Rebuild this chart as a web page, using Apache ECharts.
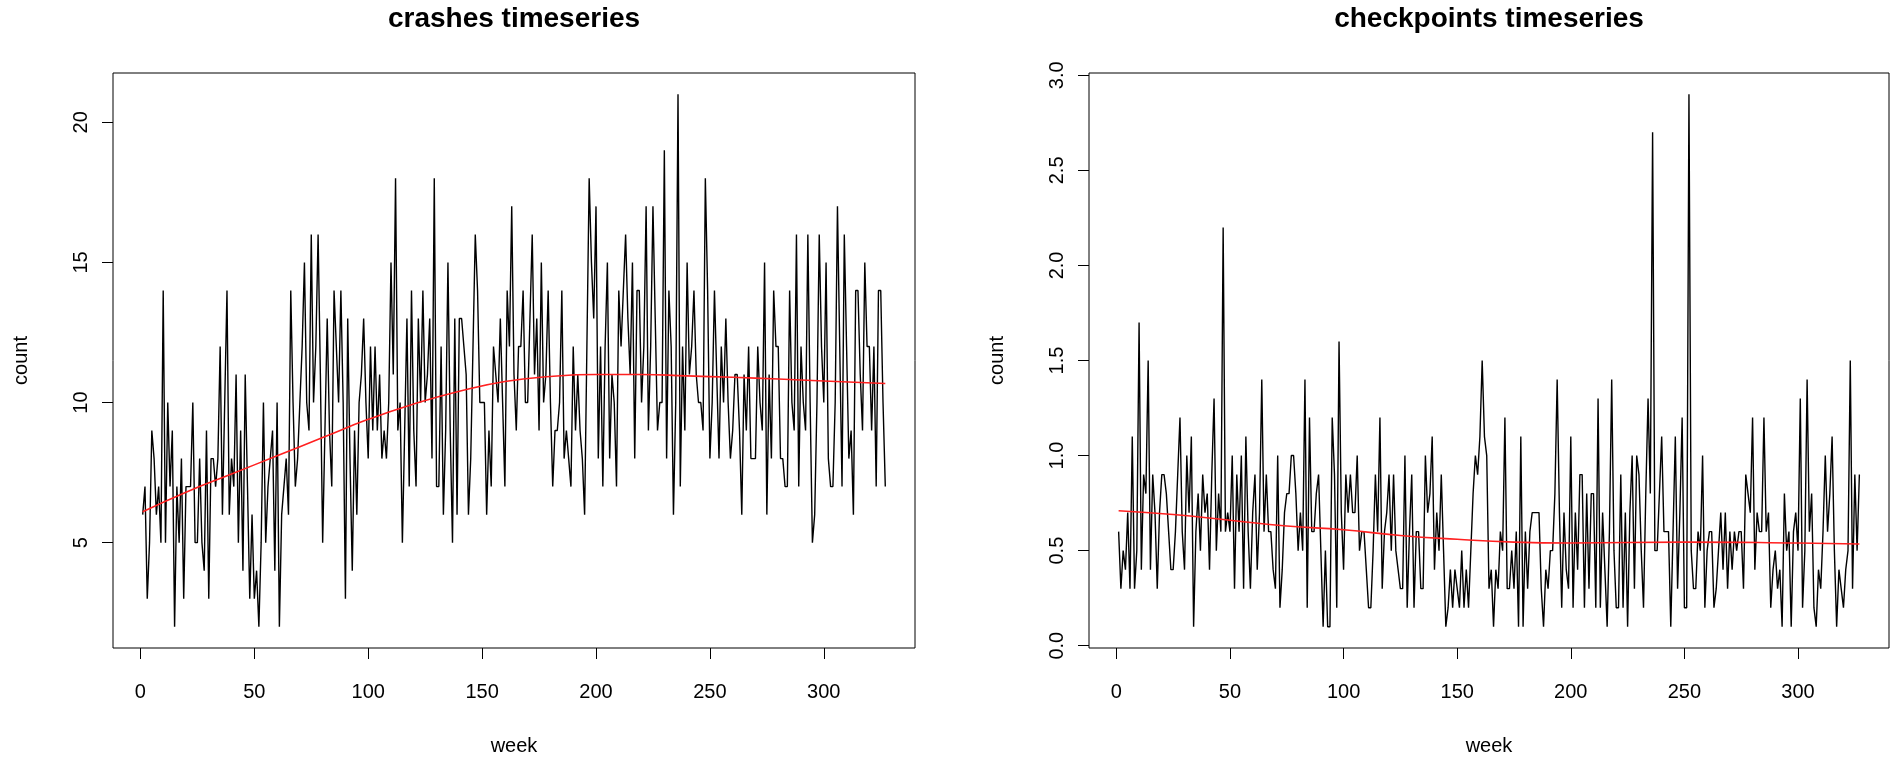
<!DOCTYPE html>
<html lang="en">
<head>
    <meta charset="UTF-8">
    <script src="https://cdn.jsdelivr.net/npm/echarts@6/dist/echarts.min.js"></script>
    <style>
        html, body { margin: 0; padding: 0; background: #fff; }
    </style>
</head>
<body>
    <div id="main" style="width: 1900px; height: 765px;"></div>
    <script>
        // weekly counts (week 1 .. 327)
        var crashes = [
            6,7,3,5,9,8,6,7,5,14,
            5,10,7,9,2,7,5,8,3,7,
            7,7,10,5,5,8,5,4,9,3,
            8,8,7,8,12,6,10,14,6,8,
            7,11,5,9,4,11,7,3,6,3,
            4,2,5,10,5,7,8,9,4,10,
            2,6,7,8,6,14,10,7,8,10,
            12,15,10,9,16,10,12,16,11,5,
            9,13,9,7,14,12,10,14,10,3,
            13,8,4,9,6,10,11,13,10,8,
            12,9,12,9,11,8,9,8,10,15,
            11,18,9,10,5,9,13,7,14,9,
            7,13,10,14,10,11,13,8,18,7,
            7,12,6,9,15,9,5,13,6,13,
            13,12,11,6,8,12,16,14,10,10,
            10,6,9,7,12,11,10,13,10,7,
            14,12,17,11,9,12,12,14,10,10,
            13,16,11,13,9,15,10,11,14,10,
            7,9,9,10,14,8,9,8,7,12,
            9,11,9,8,6,12,18,15,13,17,
            8,12,7,12,15,8,11,10,7,14,
            12,14,16,13,11,15,8,14,14,10,
            12,17,9,12,17,13,9,10,10,19,
            8,14,12,6,10,21,7,12,9,15,
            11,12,14,11,10,10,9,18,14,8,
            10,14,11,8,12,10,13,10,8,9,
            11,11,9,6,11,9,12,8,8,8,
            12,10,9,15,6,11,8,14,12,12,
            8,8,7,7,14,10,9,16,7,12,
            10,9,16,10,5,6,10,16,12,10,
            15,8,7,7,10,17,12,7,16,12,
            8,9,6,14,14,11,9,15,12,12,
            9,12,7,14,14,10,7
        ];

        var checkpoints = [
            0.6,0.3,0.5,0.4,0.7,0.3,1.1,0.3,0.5,1.7,
            0.4,0.9,0.8,1.5,0.4,0.9,0.7,0.3,0.7,0.9,
            0.9,0.8,0.6,0.4,0.4,0.6,0.9,1.2,0.6,0.4,
            1.0,0.7,1.1,0.1,0.6,0.8,0.5,0.9,0.7,0.8,
            0.4,0.9,1.3,0.5,0.8,0.6,2.2,0.6,0.7,0.6,
            1.0,0.3,0.9,0.6,1.0,0.3,1.1,0.6,0.3,0.7,
            0.9,0.4,0.7,1.4,0.6,0.9,0.6,0.6,0.4,0.3,
            1.0,0.2,0.4,0.7,0.8,0.8,1.0,1.0,0.8,0.5,
            0.7,0.5,1.4,0.2,1.2,0.6,0.6,0.8,0.9,0.5,
            0.1,0.5,0.1,0.1,1.2,0.9,0.2,1.6,0.7,0.4,
            0.9,0.7,0.9,0.7,0.7,1.0,0.5,0.6,0.6,0.4,
            0.2,0.2,0.5,0.9,0.6,1.2,0.3,0.6,0.7,0.9,
            0.5,0.9,0.5,0.4,0.3,0.3,1.0,0.2,0.6,0.9,
            0.2,0.6,0.6,0.3,0.3,1.0,0.7,0.8,1.1,0.4,
            0.7,0.5,0.9,0.5,0.1,0.2,0.4,0.2,0.4,0.3,
            0.2,0.5,0.2,0.4,0.2,0.5,0.8,1.0,0.9,1.1,
            1.5,1.1,1.0,0.3,0.4,0.1,0.4,0.3,0.6,0.5,
            1.2,0.3,0.3,0.5,0.3,0.6,0.1,1.1,0.1,0.6,
            0.3,0.6,0.7,0.7,0.7,0.7,0.3,0.1,0.4,0.3,
            0.5,0.5,0.8,1.4,0.7,0.2,0.7,0.4,0.3,1.1,
            0.2,0.7,0.4,0.9,0.9,0.2,0.8,0.3,0.8,0.8,
            0.2,1.3,0.2,0.7,0.4,0.1,0.6,1.4,0.5,0.2,
            0.2,0.9,0.2,0.7,0.1,0.7,1.0,0.3,1.0,0.9,
            0.5,0.2,0.8,1.3,0.8,2.7,0.5,0.5,0.8,1.1,
            0.6,0.6,0.6,0.1,0.6,1.1,0.3,0.7,1.2,0.2,
            0.2,2.9,0.5,0.3,0.3,0.6,0.5,1.0,0.2,0.5,
            0.6,0.6,0.2,0.3,0.5,0.7,0.4,0.7,0.3,0.6,
            0.4,0.6,0.5,0.6,0.6,0.3,0.9,0.8,0.7,1.2,
            0.4,0.7,0.6,0.6,1.2,0.6,0.7,0.2,0.4,0.5,
            0.3,0.4,0.1,0.8,0.5,0.6,0.1,0.6,0.7,0.5,
            1.3,0.2,0.5,1.4,0.6,0.8,0.2,0.1,0.4,0.3,
            0.6,1.0,0.6,0.8,1.1,0.5,0.1,0.4,0.3,0.2,
            0.4,0.5,1.5,0.3,0.9,0.5,0.9
        ];

        // red smoothed trend as [week, value]
        var crashesTrend = [
            [1, 6.1], [20, 6.8], [40, 7.45], [60, 8.1], [80, 8.75], [100, 9.4],
            [120, 9.95], [140, 10.4], [160, 10.75], [180, 10.93], [200, 11.0],
            [220, 11.0], [240, 10.95], [260, 10.9], [280, 10.84], [300, 10.77], [327, 10.68]
        ];
        var checkpointsTrend = [
            [1, 0.71], [25, 0.69], [50, 0.66], [75, 0.63], [100, 0.61], [125, 0.58],
            [150, 0.56], [175, 0.545], [200, 0.54], [250, 0.545], [300, 0.54], [327, 0.535]
        ];

        var weekTicks = [0, 50, 100, 150, 200, 250, 300];
        var crashTicks = [5, 10, 15, 20];
        var checkTicks = [0, 0.5, 1, 1.5, 2, 2.5, 3];

        function withWeeks(values) {
            return values.map(function (v, i) { return [i + 1, v]; });
        }

        var FONT = '"Liberation Sans", Arial, Helvetica, sans-serif';
        var chart = echarts.init(document.getElementById('main'));

        function xAxisFor(idx) {
            return {
                type: 'value',
                gridIndex: idx,
                min: -12.04,
                max: 340.04,
                splitLine: { show: false },
                axisLine: { show: false, onZero: false },
                axisTick: {
                    show: true,
                    customValues: weekTicks,
                    length: 11,
                    lineStyle: { color: '#000', width: 1 }
                },
                axisLabel: {
                    customValues: weekTicks,
                    color: '#000',
                    fontFamily: FONT,
                    fontSize: 20,
                    margin: 34
                },
                name: 'week',
                nameLocation: 'middle',
                nameGap: 88,
                nameTextStyle: { color: '#000', fontFamily: FONT, fontSize: 20 }
            };
        }

        function yAxisFor(idx, min, max, ticks, fmt, gap) {
            return {
                type: 'value',
                gridIndex: idx,
                min: min,
                max: max,
                splitLine: { show: false },
                axisLine: { show: false, onZero: false },
                axisTick: {
                    show: true,
                    customValues: ticks,
                    length: 11,
                    lineStyle: { color: '#000', width: 1 }
                },
                axisLabel: {
                    customValues: ticks,
                    rotate: 90,
                    color: '#000',
                    fontFamily: FONT,
                    fontSize: 20,
                    margin: 22,
                    formatter: fmt
                },
                name: 'count',
                nameLocation: 'middle',
                nameGap: gap,
                nameRotate: 90,
                nameTextStyle: { color: '#000', fontFamily: FONT, fontSize: 20 }
            };
        }

        var titleStyle = { color: '#000', fontFamily: FONT, fontSize: 28, fontWeight: 'bold' };

        chart.setOption({
            backgroundColor: '#fff',
            animation: false,
            title: [{
                text: 'crashes timeseries',
                left: 514,
                top: 5,
                padding: 0,
                textAlign: 'center',
                textStyle: titleStyle
            }, {
                text: 'checkpoints timeseries',
                left: 1489,
                top: 5,
                padding: 0,
                textAlign: 'center',
                textStyle: titleStyle
            }],
            grid: [{
                left: 113, top: 73, width: 802, height: 575,
                show: true, borderColor: '#000', borderWidth: 1, backgroundColor: '#fff'
            }, {
                left: 1089, top: 73, width: 800, height: 575,
                show: true, borderColor: '#000', borderWidth: 1, backgroundColor: '#fff'
            }],
            xAxis: [xAxisFor(0), xAxisFor(1)],
            yAxis: [
                yAxisFor(0, 1.24, 21.76, crashTicks, function (v) { return String(v); }, 82),
                yAxisFor(1, -0.012, 3.012, checkTicks, function (v) { return v.toFixed(1); }, 82)
            ],
            series: [{
                type: 'line',
                xAxisIndex: 0,
                yAxisIndex: 0,
                data: withWeeks(crashes),
                showSymbol: false,
                lineStyle: { color: '#000', width: 1.4 }
            }, {
                type: 'line',
                xAxisIndex: 0,
                yAxisIndex: 0,
                data: crashesTrend,
                smooth: true,
                showSymbol: false,
                lineStyle: { color: '#ff2020', width: 1.6 }
            }, {
                type: 'line',
                xAxisIndex: 1,
                yAxisIndex: 1,
                data: withWeeks(checkpoints),
                showSymbol: false,
                lineStyle: { color: '#000', width: 1.4 }
            }, {
                type: 'line',
                xAxisIndex: 1,
                yAxisIndex: 1,
                data: checkpointsTrend,
                smooth: true,
                showSymbol: false,
                lineStyle: { color: '#ff2020', width: 1.6 }
            }]
        });
    </script>
</body>
</html>
